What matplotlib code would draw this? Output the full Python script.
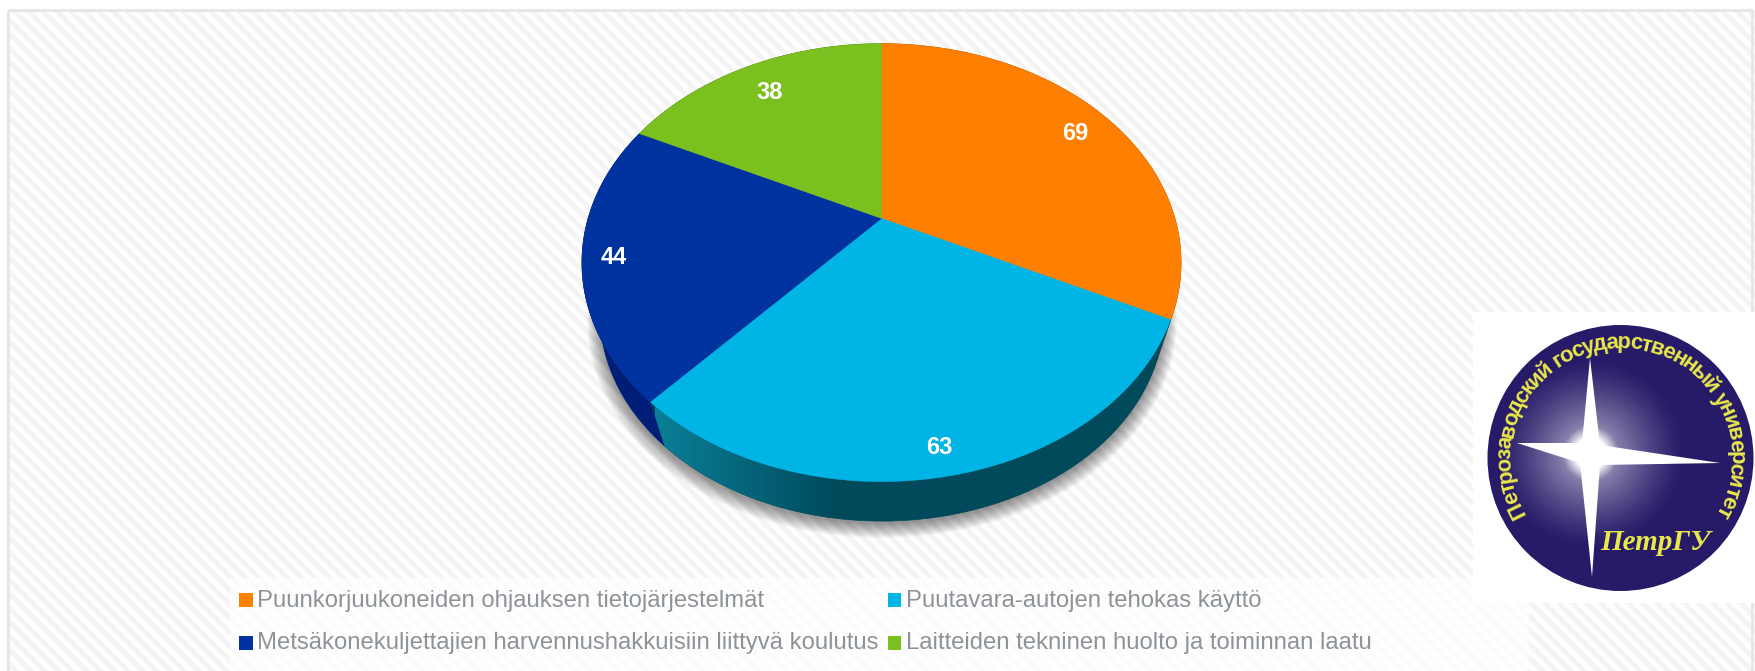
import numpy as np
import matplotlib
matplotlib.use("Agg")
import matplotlib.pyplot as plt
from matplotlib.patches import Rectangle, Circle, Polygon
from matplotlib.textpath import TextToPath
from matplotlib.font_manager import FontProperties

# ── Data ─────────────────────────────────────────────────────
categories = [
    "Puunkorjuukoneiden ohjauksen tietojärjestelmät",
    "Puutavara-autojen tehokas käyttö",
    "Metsäkonekuljettajien harvennushakkuisiin liittyvä koulutus",
    "Laitteiden tekninen huolto ja toiminnan laatu",
]
values = [69, 63, 44, 38]
colors = ["#FF8000", "#00B5E5", "#0033A0", "#7AC120"]
side_colors = ["#9A4E00", "#004A5C", "#001E78", "#4A7513"]

logo_text = "Петрозаводский государственный университет"
logo_short = "ПетрГУ"

plt.rcParams["font.family"] = ["Liberation Sans", "DejaVu Sans"]
W, H = 1756, 671
fig = plt.figure(figsize=(W / 100, H / 100), dpi=100)
ax = fig.add_axes([0, 0, 1, 1])


# ── Background ───────────────────────────────────────────────
yy, xx = np.mgrid[0:H, 0:W]
stripes = 1 - 0.05 * (0.5 + 0.5 * np.sin(2 * np.pi * (xx - yy) / 14.0))
ax.imshow(stripes, cmap="gray", vmin=0, vmax=1, extent=(0, W, H, 0), zorder=0, aspect="auto")
ax.add_patch(Rectangle((-5, -5), 12.5, H + 10, fc="white", ec="none", zorder=0.5))
ax.add_patch(Rectangle((-5, -5), W + 10, 14, fc="white", ec="none", zorder=0.5))
ax.add_patch(Rectangle((8, 9.5), W - 12, H, fc="none", ec="#E6E6E6", lw=2, zorder=0.6))
ax.add_patch(Rectangle((230, 578), 1299, 95, fc="white", ec="none", alpha=0.72, zorder=0.7))
ax.add_patch(Rectangle((1473, 312), 290, 291, fc="white", ec="none", zorder=0.8))


# ── Pie in perspective ───────────────────────────────────────
def project(theta, r=1.0, x0=881.5, y0=218.4, a=293.4, b=210.0, k=0.202):
    # theta in degrees, clockwise from the top of the pie
    t = np.radians(theta)
    px, py = r * np.sin(t), r * np.cos(t)
    d = 1 + k * py
    return x0 + a * px / d, y0 - b * py / d


def project_low(theta, r=1.0):
    # lower rim of the pie, a bit narrower than the top face
    return project(theta, r, x0=882.0, y0=273.0, a=276.0, b=198.0)


edges = np.concatenate([[0], np.cumsum(values)]) / sum(values) * 360

# soft shadow
full = np.linspace(0, 360, 361)
for i in range(12):
    sx, sy = project_low(full, 1 + 0.004 * i)
    ax.fill(sx, sy + 3, color="black", alpha=0.04, lw=0, zorder=1)

# sides
side_patches = []
for i, c in enumerate(side_colors):
    th = np.linspace(edges[i], edges[i + 1], 120)
    tx, ty = project(th)
    lx, ly = project_low(th)
    pts = np.column_stack([np.r_[tx, lx[::-1]], np.r_[ty, ly[::-1]]])
    p = Polygon(pts, closed=True, fc=c, ec=c, lw=0.5, zorder=2)
    ax.add_patch(p)
    side_patches.append(p)

# gradient on the cyan side
grad = np.linspace(0, 1, 256).reshape(1, -1)
start = np.array([10, 128, 152]) / 255
end = np.array([0, 74, 92]) / 255
rgb = start + (end - start) * grad[..., None]
im = ax.imshow(rgb, extent=(655, 835, 540, 400), zorder=2.1, aspect="auto")
im.set_clip_path(side_patches[1])

# top faces
for i, c in enumerate(colors):
    th = np.linspace(edges[i], edges[i + 1], 160)
    tx, ty = project(th)
    ax.fill(np.r_[881.5, tx], np.r_[218.4, ty], color=c, lw=0.3, zorder=3)

# data labels
label_r = [0.85, 0.905, 0.90, 0.82]
label_dx = [0, -4, 1, 0]
for i, v in enumerate(values):
    lx, ly = project((edges[i] + edges[i + 1]) / 2, label_r[i])
    ax.text(lx + label_dx[i], ly + 2, str(v), color="white", fontsize=17, fontweight="bold",
            ha="center", va="center", zorder=4)


# ── Legend ───────────────────────────────────────────────────
legend_pos = [(239.5, 600), (888, 600), (239.5, 642.5), (888, 642.5)]
for (lx, ly), c, name in zip(legend_pos, colors, categories):
    ax.add_patch(Rectangle((lx, ly - 7), 13.5, 14, fc=c, ec="none", zorder=4))
    ax.text(lx + 18, ly + 7, name, color="#8E9398", fontsize=17.2, ha="left",
            va="baseline", zorder=4)


# ── Logo ─────────────────────────────────────────────────────
cx, cy, cr = 1620.5, 458.0, 133.0
disc = Circle((cx, cy), cr, fc="#271A68", ec="none", zorder=5)
ax.add_patch(disc)

gy, gx = np.mgrid[300:620, 1480:1760]
dist = np.hypot(gx - 1590, gy - 453)
glow = np.ones(dist.shape + (4,))
glow[..., 3] = np.clip(0.7 * np.clip(1 - dist / 95, 0, 1) ** 1.3 + np.clip(1 - dist / 28, 0, 1), 0, 1)
im = ax.imshow(glow, extent=(1480, 1760, 620, 300), zorder=5.1, aspect="auto")
im.set_clip_path(disc)

star = [(1590, 358), (1600, 445), (1720, 463), (1600, 465), (1592, 577),
        (1580, 463), (1517, 443), (1582, 443)]
ax.add_patch(Polygon(star, closed=True, fc="white", ec="none", zorder=5.2))

# letters round the rim
fp = FontProperties(family="Liberation Sans", weight="bold", size=16)
ttp = TextToPath()
widths = [ttp.get_text_width_height_descent(ch, fp, False)[0] for ch in logo_text]
total = sum(widths)
pos = 0.0
for ch, w in zip(logo_text, widths):
    ang = -120 + 240 * (pos + w / 2) / total
    a = np.radians(ang)
    ax.text(cx + 110 * np.sin(a), cy - 110 * np.cos(a), ch, fontproperties=fp,
            color="#E8E84A", rotation=-ang, rotation_mode="anchor",
            ha="center", va="baseline", zorder=5.3)
    pos += w

ax.text(1655, 543, logo_short, color="#E8E84A", fontsize=21, style="italic", fontweight="bold",
        family=["Liberation Serif", "DejaVu Serif"], ha="center", va="center", zorder=5.3)

ax.set_xlim(0, W)
ax.set_ylim(H, 0)
ax.axis("off")
fig.savefig("out.png", dpi=100)
